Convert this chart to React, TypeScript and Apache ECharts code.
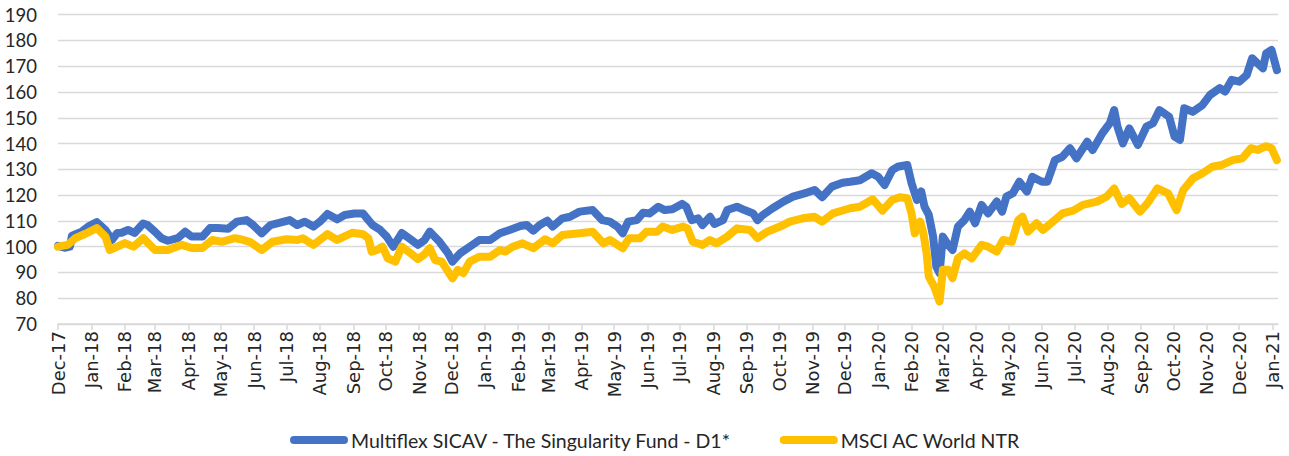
import React, { useEffect, useRef } from "react";
import * as echarts from "echarts";

// Day offsets are counted from 1 Dec 2017
const START = Date.UTC(2017, 11, 1);
const DAY = 86400000;
const AXIS_END_DAY = 1132;

const fundName = "Multiflex SICAV - The Singularity Fund - D1*";
const msciName = "MSCI AC World NTR";

const fundDays = [
  0, 6, 11, 13, 22, 28, 36, 44, 50, 55, 59, 65, 71, 79, 83, 90, 96, 102, 111, 118,
  124, 134, 141, 148, 158, 166, 175, 181, 189, 197, 206, 215, 222, 229, 237, 243, 250, 259, 266, 275,
  283, 288, 292, 299, 305, 311, 319, 328, 334, 340, 345, 354, 362, 366, 373, 382, 391, 401, 410, 419,
  429, 435, 441, 447, 454, 459, 468, 475, 484, 496, 505, 512, 519, 524, 529, 537, 543, 549, 557, 563,
  570, 579, 583, 588, 594, 598, 605, 609, 617, 621, 630, 637, 645, 649, 654, 663, 673, 682, 695, 702,
  709, 718, 728, 735, 744, 755, 761, 767, 774, 779, 788, 792, 797, 801, 804, 808, 812, 815, 818, 821,
  826, 830, 835, 841, 846, 851, 857, 863, 871, 876, 880, 886, 892, 899, 904, 913, 918, 925, 932, 939,
  945, 955, 960, 969, 976, 980, 983, 988, 994, 1002, 1010, 1016, 1022, 1031, 1036, 1041, 1045, 1053, 1062, 1069,
  1078, 1083, 1089, 1096, 1103, 1108, 1113, 1118, 1121, 1126, 1131,
];
const fundValues = [
  100.3, 99.6, 100, 104.3, 105.8, 107.8, 109.5, 106.5, 102.6, 105.3, 105.4, 106.5, 105.3, 109, 108.4, 105.8, 103.3, 102.3, 103.3, 105.8,
  103.9, 103.9, 107.2, 107.2, 107, 109.7, 110.3, 108.4, 105.2, 108.4, 109.3, 110.3, 108.4, 109.7, 107.8, 109.7, 112.7, 110.6, 112.3, 112.9,
  112.9, 110.3, 108.4, 106.5, 103.9, 100, 105.3, 102.6, 100.7, 102.5, 105.8, 101.9, 97.4, 94.2, 97.4, 100, 102.6, 102.6, 105.2, 106.5,
  108, 108.4, 106.2, 108.4, 110.1, 107.8, 111, 111.6, 113.6, 114.2, 110.3, 109.7, 107.8, 105.2, 109.7, 110.3, 113.2, 112.9, 115.5, 114.2,
  114.5, 116.6, 115.5, 110.3, 111, 108.4, 111.6, 108.8, 110.3, 114.2, 115.5, 114.2, 112.9, 110.3, 112.3, 114.9, 117.5, 119.4, 121, 122,
  119.2, 123.3, 124.8, 125.2, 125.8, 128.5, 127.1, 123.9, 129.7, 131, 131.7, 124.6, 118.1, 121.4, 115.5, 112.3, 103.9, 92.2, 89.7, 103.9,
  100.7, 98.7, 107.8, 110.3, 113.6, 109.1, 116.2, 112.9, 117.5, 113.6, 119.4, 120.7, 125.2, 121.4, 127.1, 125.2, 125.2, 133.6, 134.9, 138.2,
  134.3, 140.7, 137.5, 144, 147.9, 153, 146.6, 140.1, 145.9, 139.5, 146.6, 147.9, 153, 150.4, 142.7, 141.4, 153.7, 152.3, 155, 158.9,
  161.5, 160.2, 164.7, 164, 166.6, 173.1, 171.1, 169.2, 175, 176.3, 168.5,
];

const msciDays = [
  0, 9, 16, 25, 36, 44, 48, 55, 62, 70, 79, 90, 102, 115, 124, 134, 143, 152, 164, 169,
  178, 189, 199, 212, 222, 227, 237, 250, 259, 273, 283, 288, 291, 296, 301, 306, 313, 319, 327, 334,
  340, 345, 350, 356, 362, 366, 371, 376, 382, 391, 401, 410, 415, 422, 431, 441, 452, 459, 468, 484,
  496, 506, 512, 524, 530, 540, 546, 556, 561, 570, 580, 584, 589, 598, 605, 611, 621, 630, 642, 649,
  658, 670, 679, 691, 702, 709, 719, 735, 744, 756, 765, 774, 781, 788, 792, 795, 800, 803, 806, 808,
  813, 818, 821, 826, 830, 835, 841, 848, 857, 863, 871, 877, 885, 891, 895, 900, 908, 914, 923, 932,
  942, 951, 964, 973, 980, 987, 994, 1004, 1011, 1020, 1030, 1038, 1044, 1053, 1062, 1071, 1080, 1090, 1099, 1107,
  1113, 1121, 1126, 1131,
];
const msciValues = [
  100, 100.7, 103.3, 104.9, 107.2, 103.9, 98.7, 100, 101.4, 100, 103.3, 98.7, 98.7, 100.7, 99.5, 99.5, 102.6, 101.9, 103.3, 102.9,
  101.9, 98.7, 101.9, 102.9, 102.6, 103.3, 100.7, 104.9, 102.6, 105.4, 104.8, 103.3, 98.1, 98.7, 100, 95.5, 94.2, 100, 97.5, 95.2,
  97, 99.4, 94.8, 94.2, 90.3, 87.7, 91, 89.7, 94.2, 96.1, 96.1, 98.7, 98.1, 100, 101.3, 99.4, 102.9, 101.3, 104.5, 105.2,
  105.8, 101.3, 102.6, 99.4, 103.3, 103.3, 105.8, 105.8, 107.8, 106.5, 107.8, 107.1, 101.9, 100.7, 102.6, 101.3, 103.9, 107.1, 106.5, 103.3,
  105.8, 107.8, 109.7, 111, 111.6, 109.7, 112.9, 114.9, 115.5, 118.4, 114, 118.1, 119.2, 118.8, 112.9, 105.2, 109.7, 105.2, 97.4, 88.4,
  84.5, 78.7, 91, 91, 87.8, 95.5, 97.4, 95.5, 100.7, 100, 98.1, 102.6, 101.9, 110.3, 111.6, 105.8, 109.1, 106.5, 109.7, 112.9,
  114, 116.2, 117.5, 119.4, 122.6, 116.6, 118.8, 113.6, 116.9, 122.6, 120.7, 114.2, 121.9, 126.5, 128.5, 131, 131.7, 133.6, 134.3, 138.2,
  137.5, 139, 138.2, 133.6,
];

const tickLabels = [
  "Dec-17", "Jan-18", "Feb-18", "Mar-18", "Apr-18", "May-18", "Jun-18", "Jul-18", "Aug-18", "Sep-18",
  "Oct-18", "Nov-18", "Dec-18", "Jan-19", "Feb-19", "Mar-19", "Apr-19", "May-19", "Jun-19", "Jul-19",
  "Aug-19", "Sep-19", "Oct-19", "Nov-19", "Dec-19", "Jan-20", "Feb-20", "Mar-20", "Apr-20", "May-20",
  "Jun-20", "Jul-20", "Aug-20", "Sep-20", "Oct-20", "Nov-20", "Dec-20", "Jan-21",
];

const MONTHS: Record<string, number> = {
  Jan: 0, Feb: 1, Mar: 2, Apr: 3, May: 4, Jun: 5, Jul: 6, Aug: 7, Sep: 8, Oct: 9, Nov: 10, Dec: 11,
};

export default function App() {
  const ref = useRef<HTMLDivElement>(null);

  useEffect(() => {
    if (!ref.current) return;
    const chart = echarts.init(ref.current, undefined, { renderer: "svg" });

    // month starts as day offsets from START
    const tickDays = tickLabels.map((l) => {
      const [m, y] = l.split("-");
      return Math.round((Date.UTC(2000 + Number(y), MONTHS[m], 1) - START) / DAY);
    });
    const labelByDay = new Map<number, string>();
    tickDays.forEach((d, i) => labelByDay.set(d, tickLabels[i]));

    const toSeries = (days: number[], values: number[]) =>
      days.map((d, i) => [d, values[i]]);

    chart.setOption({
      animation: false,
      backgroundColor: "#ffffff",
      grid: {
        left: 58,
        right: 11,
        top: 14.7,
        bottom: 132,
        outerBoundsMode: "none",
        containLabel: false,
      },
      legend: {
        data: [fundName, msciName],
        left: 290,
        top: 430,
        padding: 0,
        itemWidth: 58,
        itemHeight: 8,
        itemGap: 48,
        icon: "path://M4,0 L54,0 A4,4 0 0 1 54,8 L4,8 A4,4 0 0 1 4,0 Z",
        textStyle: { fontFamily: "Lato", fontSize: 19.5, color: "#262626", padding: [0, 0, 0, -2] },
      },
      xAxis: {
        type: "value",
        min: 0,
        max: AXIS_END_DAY,
        axisLine: { show: true, lineStyle: { color: "#D9D9D9", width: 1.5 } },
        axisTick: {
          show: true,
          customValues: tickDays,
          length: 6,
          lineStyle: { color: "#D9D9D9", width: 1.5 },
        },
        axisLabel: {
          customValues: tickDays,
          rotate: 90,
          margin: 7,
          hideOverlap: false,
          showMinLabel: true,
          showMaxLabel: true,
          fontFamily: "DejaVu Sans",
          fontSize: 18,
          color: "#262626",
          formatter: (v: number) => labelByDay.get(v) ?? "",
        },
        splitLine: { show: false },
      },
      yAxis: {
        type: "value",
        min: 70,
        max: 190,
        interval: 10,
        axisLine: { show: false },
        axisTick: { show: false },
        axisLabel: {
          margin: 21,
          fontFamily: "Lato",
          fontSize: 18.5,
          color: "#262626",
        },
        splitLine: { lineStyle: { color: "#D9D9D9", width: 1.3 } },
      },
      series: [
        {
          name: fundName,
          type: "line",
          data: toSeries(fundDays, fundValues),
          showSymbol: false,
          symbol: "none",
          color: "#4472C4",
          lineStyle: { width: 8, color: "#4472C4", cap: "round", join: "round" },
        },
        {
          name: msciName,
          type: "line",
          data: toSeries(msciDays, msciValues),
          showSymbol: false,
          symbol: "none",
          color: "#FFC000",
          lineStyle: { width: 8, color: "#FFC000", cap: "round", join: "round" },
        },
      ],
    });

    return () => chart.dispose();
  }, []);

  return (
    <div
      ref={ref}
      style={{ position: "fixed", left: 0, top: 0, width: 1289, height: 456 }}
    />
  );
}
